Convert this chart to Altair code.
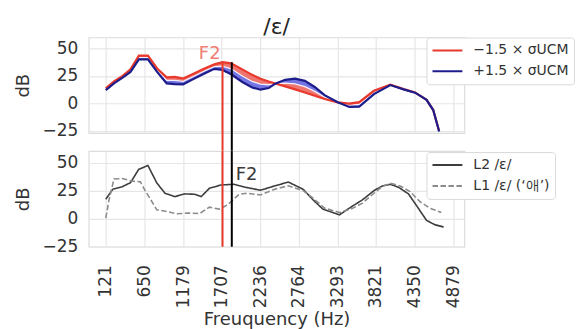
import altair as alt
import pandas as pd

# ---------------- data ----------------
top_freq = [121, 233, 351, 459, 574, 698, 824, 955, 1067, 1180, 1293, 1473, 1608, 1720,
            1838, 1991, 2126, 2240, 2352, 2442, 2578, 2713, 2848, 2983, 3118, 3298, 3456,
            3592, 3794, 4019, 4200, 4357, 4515, 4606, 4687]
red_db = [13.7, 20, 25, 31, 43.5, 43.5, 31.8, 23.7, 24.2, 22.7, 26, 31.8, 35.5, 37.5,
          36.5, 31, 26, 22.5, 20, 18.2, 15.5, 12.8, 10, 7, 4, 1, -0.2,
          1.2, 11.5, 17, 13, 10, 3.2, -6, -25]
mid_db = [13, 19, 24.2, 29.8, 41.7, 41.7, 30.2, 21, 21, 20, 23.6, 29.5, 33.5, 34,
          31.5, 25, 20, 17.5, 17, 18.1, 18.5, 17.8, 15.3, 11, 5.8, 1, -1.7,
          -0.9, 10, 16.8, 12.9, 9.9, 3.2, -6, -25.2]
blue_db = [12.2, 18.2, 23.5, 28.7, 40, 40, 28.7, 18.2, 17.6, 17.3, 21.2, 27.3, 31.5, 30.5,
           26.5, 19.5, 14.5, 12.5, 14, 18, 21.5, 22.5, 20.5, 15, 7.5, 1, -3.2,
           -3, 8.5, 16.7, 12.8, 9.8, 3.2, -6, -25.5]
red_label = "−1.5 × σUCM"
blue_label = "+1.5 × σUCM"

l2_freq = [121, 216, 347, 459, 571, 698, 820, 932, 1067, 1202, 1338, 1428, 1540, 1699,
           1879, 2037, 2240, 2442, 2622, 2825, 2960, 3095, 3321, 3478, 3636, 3794, 3907,
           4019, 4132, 4267, 4380, 4515, 4627, 4749]
l2_db = [17.5, 26.3, 28.7, 32.2, 44.1, 47.6, 32, 22.8, 19.8, 22.2, 21.9, 19.8, 27.2, 30.2,
         30.8, 28.1, 25.5, 29.5, 32.8, 26.3, 16.9, 8.6, 3.5, 10.4, 16.9, 25.1, 29.3,
         30.8, 28.1, 22.2, 11.5, -1.5, -5.3, -7.4]
l1_freq = [121, 166, 233, 347, 472, 594, 662, 820, 955, 1090, 1247, 1405, 1540, 1676,
           1788, 1865, 1950, 2058, 2240, 2442, 2622, 2825, 2960, 3118, 3321, 3478, 3636,
           3794, 3907, 4019, 4154, 4289, 4424, 4559, 4717]
l1_db = [0.6, 17, 35.5, 36, 33.7, 33, 25, 8, 6.5, 4.4, 5.1, 4.6, 10.4, 8.6,
         12.4, 17, 22, 22.8, 21.3, 26.5, 29.5, 25.1, 18.4, 9.5, 5.6, 8.6, 13.9,
         22.8, 28.7, 31.7, 29.3, 24.2, 15.3, 9.5, 5.6]
l2_label = "\u00a0" * 5 + "L2 /ε/"
l1_label = "L1 /ε/ (‘애’)"

f2_freqs = [1720, 1847]      # red (−1.5σ) and black (L2) F2 markers
f2_tops = [37.0, 37.5]
tick_labels = ["121", "650", "1179", "1707", "2236", "2764", "3293", "3821", "4350", "4879"]
tick_values = [int(t) for t in tick_labels]
y_ticks = [-25, 0, 25, 50]
x_domain = [-113, 5033]

# ---------------- styling ----------------
W, H, GAP = 377, 96, 18
FONT = "DejaVu Sans"
TXT = "#333333"
RED = "#e8392c"
BLUE = "#1c1c8a"

x_scale = alt.Scale(domain=x_domain, nice=False, zero=False)
top_y = alt.Scale(domain=[-27, 60], nice=False, zero=False)
bot_y = alt.Scale(domain=[-25, 60.5], nice=False, zero=False)

y_axis = alt.Axis(values=y_ticks, tickCount=len(y_ticks), title="dB", grid=True,
                  labelPadding=11, titlePadding=10,
                  labelOverlap=False, labelBound=False, labelFlush=False)
x_top_axis = alt.Axis(values=tick_values, tickCount=len(tick_values), labels=False,
                      title=None, grid=True)
x_bot_axis = alt.Axis(values=tick_values, tickCount=len(tick_values), format="d",
                      labelAngle=-90, grid=True, labelPadding=18, title="Freuquency (Hz)",
                      titlePadding=3, labelOverlap=False, labelFlush=False)


def legend(x, y):
    return alt.Legend(title=None, orient="none", legendX=x, legendY=y, symbolType="stroke",
                      symbolSize=900, symbolStrokeWidth=2, clipHeight=16, rowPadding=5,
                      labelOffset=10, padding=5, fillColor="white", strokeColor="#d9d9d9",
                      cornerRadius=3, labelFont=FONT, labelFontSize=14, labelColor=TXT,
                      labelLimit=300)


# ---------------- top panel ----------------
band = pd.DataFrame({"f": top_freq, "red": red_db, "mid": mid_db, "blue": blue_db})
n = len(top_freq)
lines_df = pd.DataFrame({"f": top_freq * 2, "db": red_db + blue_db,
                         "s": [red_label] * n + [blue_label] * n})
f2_df = pd.DataFrame({"f": f2_freqs, "top": f2_tops})
f2_red = f2_df.iloc[[0]]
f2_black = f2_df.iloc[[1]]

area_red = alt.Chart(band).mark_area(color="#ee7570").encode(
    x=alt.X("f:Q", scale=x_scale, axis=x_top_axis),
    y=alt.Y("red:Q", scale=top_y, axis=y_axis),
    y2="mid:Q")
area_blue = alt.Chart(band).mark_area(color="#7474e2").encode(
    x="f:Q", y="mid:Q", y2="blue:Q")
mid_line = alt.Chart(band).mark_line(color="white", strokeWidth=1.3, opacity=0.85).encode(
    x="f:Q", y="mid:Q")
top_lines = alt.Chart(lines_df).mark_line(strokeWidth=2.2).encode(
    x="f:Q", y="db:Q",
    color=alt.Color("s:N", scale=alt.Scale(domain=[red_label, blue_label], range=[RED, BLUE]),
                    legend=legend(339, 0)))
rule_red_top = alt.Chart(f2_red).mark_rule(color=RED, strokeWidth=2).encode(
    x="f:Q", y="top:Q", y2=alt.value(H + GAP))
rule_black_top = alt.Chart(f2_black).mark_rule(color="black", strokeWidth=2).encode(
    x="f:Q", y="top:Q", y2=alt.value(H + GAP))
f2_text_red = alt.Chart(f2_red).mark_text(
    text="F2", align="right", baseline="alphabetic", dx=-2, color="#f27d73",
    fontSize=18, font=FONT).encode(x="f:Q", y=alt.datum(40.8))

top = alt.layer(area_red, area_blue, mid_line, top_lines, rule_red_top, rule_black_top,
                f2_text_red).properties(
    width=W, height=H,
    title=alt.TitleParams("/ε/", fontSize=22, font=FONT, fontWeight="normal", color="#262626",
                          anchor="middle", frame="group", offset=-2))

# ---------------- bottom panel ----------------
bot_df = pd.DataFrame({"f": l2_freq + l1_freq, "db": l2_db + l1_db,
                       "s": [l2_label] * len(l2_freq) + [l1_label] * len(l1_freq)})
bot_dom = [l2_label, l1_label]
bot_lines = alt.Chart(bot_df).mark_line(strokeWidth=1.6).encode(
    x=alt.X("f:Q", scale=x_scale, axis=x_bot_axis),
    y=alt.Y("db:Q", scale=bot_y, axis=y_axis),
    color=alt.Color("s:N", scale=alt.Scale(domain=bot_dom, range=["#3d3d3d", "#8c8c8c"]),
                    legend=legend(339, 1)),
    strokeDash=alt.StrokeDash("s:N", scale=alt.Scale(domain=bot_dom, range=[[1, 0], [5.5, 2.5]]),
                              legend=legend(339, 1)))
rule_red_bot = alt.Chart(f2_red).mark_rule(color=RED, strokeWidth=2).encode(x="f:Q")
rule_black_bot = alt.Chart(f2_black).mark_rule(color="black", strokeWidth=2).encode(x="f:Q")
f2_text_black = alt.Chart(f2_black).mark_text(
    text="F2", align="left", baseline="alphabetic", dx=4, color="#3a3a3a",
    fontSize=18, font=FONT).encode(x="f:Q", y=alt.datum(34.6))

bottom = alt.layer(bot_lines, rule_red_bot, rule_black_bot, f2_text_black).properties(
    width=W, height=H)

chart = alt.vconcat(top, bottom, spacing=GAP, bounds="flush").resolve_scale(
    color="independent", strokeDash="independent", y="independent"
).properties(
    padding={"left": 5, "top": 6, "right": 0, "bottom": 0}
).configure(font=FONT).configure_view(
    stroke="#dcdcdc", strokeWidth=1.2
).configure_axis(
    gridColor="#e6e6e6", gridWidth=1.2, labelColor=TXT, titleColor=TXT,
    labelFont=FONT, titleFont=FONT, labelFontSize=17, titleFontSize=18,
    titleFontWeight="normal", domain=False, ticks=False
)

chart.save("out.html", embed_options={"renderer": "svg", "actions": False})
